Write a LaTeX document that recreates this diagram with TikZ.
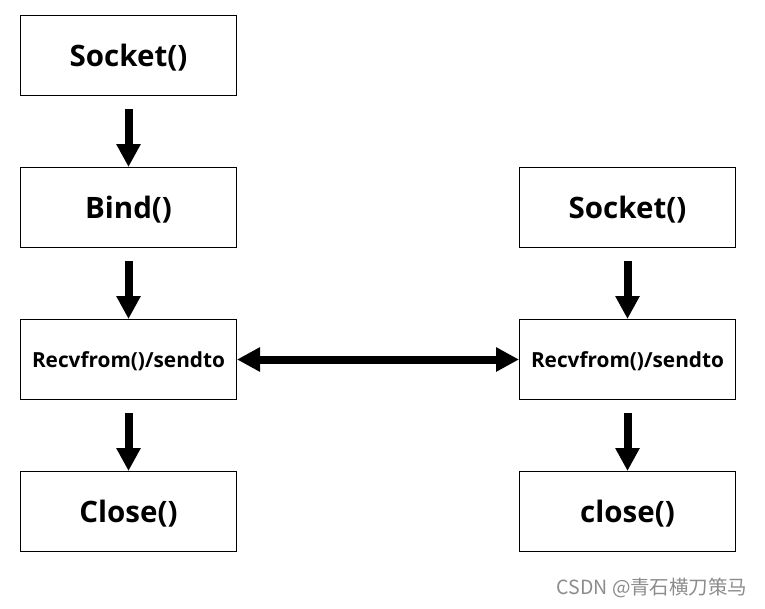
\documentclass[tikz,border=0pt]{standalone}
\usepackage{fontspec}
\setmainfont{Open Sans}
\newfontfamily\cjkfont{Noto Sans CJK SC}
\usetikzlibrary{arrows.meta,positioning}
\tikzstyle{call}=[
	rectangle,
	draw=black,
	line width=1pt,
	minimum width=216pt,
	minimum height=80pt,
	inner sep=0pt,
	text height=21pt,
	text depth=0pt,
	font=\fontsize{29.5}{32}\bfseries\selectfont,
	node distance=71pt and 282pt
]
\tikzstyle{small}=[
	text height=15pt,
	font=\fontsize{20.8}{24}\bfseries\selectfont
]
\tikzstyle{flow}=[
	<-,
	line width=8pt,
	>={Triangle[length=23pt,width=23pt]},
	shorten >=13pt
]
\tikzstyle{talk}=[
	<->,
	line width=8pt,
	>={Triangle[length=23pt,width=23pt]}
]

\begin{document}
\begin{tikzpicture}
\useasboundingbox (0,0) rectangle (765pt,-608pt);
% server side
\node [call] (ServerSocket) at (128.5pt,-55.5pt) {Socket()};
\node [call] (ServerBind)[below=of ServerSocket] {Bind()}
	edge [flow] (ServerSocket);
\node [call, small] (ServerRecv)[below=of ServerBind] {Recvfrom()/sendto}
	edge [flow] (ServerBind);
\node [call] (ServerClose)[below=of ServerRecv] {Close()}
	edge [flow] (ServerRecv);
% client side
\node [call] (ClientSocket)[right=of ServerBind] {Socket()};
\node [call, small] (ClientRecv)[below=of ClientSocket] {Recvfrom()/sendto}
	edge [flow] (ClientSocket)
	edge [talk] (ServerRecv);
\node [call] (ClientClose)[below=of ClientRecv] {close()}
	edge [flow] (ClientRecv);
% watermark
\node [anchor=east, text=black!45, font=\cjkfont\fontsize{19.5}{22}\selectfont] (Mark) at (751pt,-588pt) {CSDN @青石横刀策马};
\end{tikzpicture}
\end{document}
